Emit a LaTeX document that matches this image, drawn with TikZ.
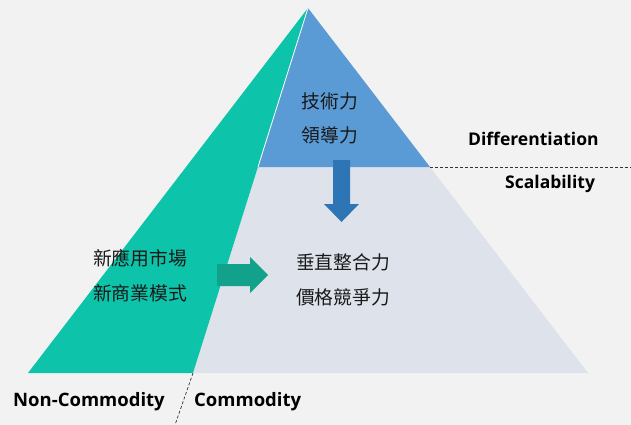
\documentclass[tikz,border=0pt]{standalone}
\usepackage{fontspec}
\setmainfont{Open Sans}
\newfontfamily\cjkfont{Noto Sans CJK TC}
\begin{document}
\begin{tikzpicture}[x=1pt,y=-1pt,
  cjk/.style={font=\cjkfont\fontsize{18.8}{22}\selectfont, text=black!90, inner sep=0pt},
  lbl/.style={font=\bfseries\fontsize{17.5}{20}\selectfont, text=black, inner sep=0pt},
  lblw/.style={lbl, font=\bfseries\fontsize{18.5}{21}\selectfont},
  sep/.style={dash pattern=on 3pt off 2pt, line width=0.7pt, black!80}]
\definecolor{bg}{HTML}{F2F2F2}
\definecolor{tealA}{HTML}{0DC3A9}
\definecolor{tealB}{HTML}{12A28B}
\definecolor{blueA}{HTML}{5B9BD5}
\definecolor{blueB}{HTML}{2E75B6}
\definecolor{grayA}{HTML}{DEE3EB}
% canvas
\fill[bg] (0,0) rectangle (631,425);
\useasboundingbox (0,0) rectangle (631,425);
% pyramid corners
\coordinate (apex) at (308,8);
\coordinate (bl) at (28,373);
\coordinate (br) at (588,373);
\coordinate (tb) at (193,373);
\coordinate (ml) at (258,167);
\coordinate (mr) at (430,167);
% regions
\fill[grayA] (ml) -- (mr) -- (br) -- (tb) -- cycle;
\fill[blueA] (apex) -- (mr) -- (ml) -- cycle;
\fill[tealA] (apex) -- (tb) -- (bl) -- cycle;
\draw[white, line width=0.8pt] (apex) -- (ml);
% divider lines
\coordinate (dr) at (631,167);
\coordinate (db) at (175,425);
\draw[sep] (mr) -- (dr);
\draw[sep] (tb) -- (db);
% arrows
\fill[blueB] (333,160) -- (350,160) -- (350,204) -- (359,204) -- (341.5,222)
  -- (324,204) -- (333,204) -- cycle;
\fill[tealB] (217,264) -- (250,264) -- (250,257) -- (268,275) -- (250,293)
  -- (250,286) -- (217,286) -- cycle;
% texts
\node[cjk] (t1) at (330,101) {技術力};
\node[cjk] (t2) at (330,135) {領導力};
\node[cjk] (t3) at (140,258) {新應用市場};
\node[cjk] (t4) at (140,293) {新商業模式};
\node[cjk] (t5) at (343,262) {垂直整合力};
\node[cjk] (t6) at (343,297) {價格競爭力};
\node[lbl, anchor=west] (d1) at (468,139) {Differentiation};
\node[lbl, anchor=west] (d2) at (505,184) {Scalability};
\node[lblw, anchor=west] (c1) at (13,402) {Non-Commodity};
\node[lblw, anchor=west] (c2) at (194,402) {Commodity};
\end{tikzpicture}
\end{document}
